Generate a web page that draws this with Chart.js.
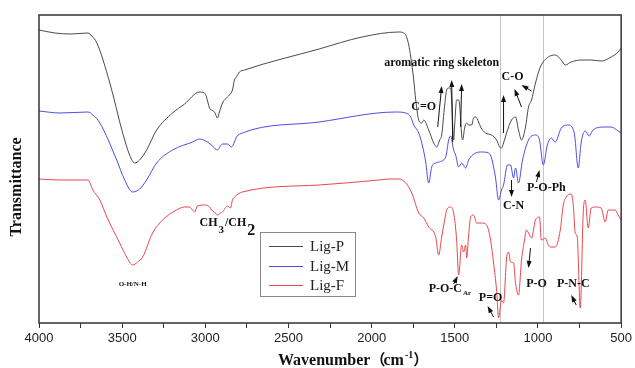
<!DOCTYPE html>
<html>
<head>
<meta charset="utf-8">
<script src="https://cdn.jsdelivr.net/npm/chart.js@4.4.1/dist/chart.umd.min.js"></script>
<style>
html, body { margin: 0; padding: 0; background: #fff; }
canvas { display: block; }
</style>
</head>
<body>
<canvas id="c" width="635" height="368"></canvas>
<script>
// [wavenumber cm-1, transmittance (arbitrary units)]
const ligP = [
    [4000, 293], [3904, 290], [3814, 289], [3706, 290], [3682, 287], [3652, 280], [3574, 240], [3497, 190],
    [3455, 168], [3425, 160], [3395, 163], [3353, 173], [3293, 193], [3197, 210], [3125, 219], [3035, 231],
    [3005, 230], [2993, 226], [2975, 215], [2963, 213], [2945, 211], [2927, 205], [2915, 211], [2897, 220],
    [2867, 226], [2855, 228], [2837, 233], [2825, 243], [2813, 246], [2795, 251], [2765, 253], [2316, 274],
    [2058, 286], [1837, 291], [1807, 290], [1795, 288], [1777, 278], [1765, 266], [1747, 243], [1735, 223],
    [1717, 203], [1699, 200], [1687, 203], [1657, 193], [1627, 180], [1609, 176], [1591, 183], [1579, 188],
    [1561, 218], [1549, 233], [1537, 235], [1525, 235], [1519, 223], [1507, 183], [1501, 198], [1489, 223],
    [1477, 223], [1471, 218], [1459, 188], [1453, 183], [1441, 195], [1429, 200], [1417, 198], [1399, 198],
    [1387, 205], [1375, 206], [1357, 201], [1345, 196], [1315, 190], [1279, 188], [1249, 183], [1231, 176],
    [1219, 175], [1207, 180], [1189, 190], [1159, 203], [1135, 206], [1117, 193], [1099, 183], [1075, 196],
    [1057, 216], [1039, 223], [1015, 240], [986, 256], [938, 266], [896, 268], [860, 263], [836, 258],
    [800, 261], [740, 263], [680, 263], [620, 262], [560, 266], [518, 271], [500, 275]
];
const ligM = [
    [4000, 212], [3874, 210], [3706, 211], [3676, 208], [3634, 200], [3533, 163], [3485, 143], [3437, 131],
    [3395, 134], [3353, 143], [3293, 160], [3197, 173], [3077, 181], [3035, 184], [3011, 183], [2987, 181],
    [2957, 177], [2927, 173], [2909, 177], [2897, 179], [2867, 179], [2843, 176], [2825, 181], [2813, 186],
    [2777, 190], [2316, 201], [1855, 211], [1795, 210], [1765, 206], [1747, 198], [1717, 190], [1693, 176],
    [1675, 161], [1657, 140], [1639, 156], [1615, 160], [1597, 161], [1555, 166], [1537, 183], [1525, 187],
    [1507, 173], [1495, 168], [1477, 156], [1459, 160], [1435, 155], [1417, 163], [1405, 166], [1375, 170],
    [1339, 171], [1297, 170], [1279, 165], [1267, 156], [1255, 145], [1237, 123], [1219, 133], [1207, 138],
    [1183, 158], [1165, 158], [1147, 145], [1135, 155], [1117, 140], [1093, 163], [1057, 183], [1015, 188],
    [991, 183], [968, 158], [944, 178], [920, 185], [896, 181], [860, 195], [818, 198], [782, 190],
    [758, 155], [740, 181], [716, 192], [692, 187], [674, 192], [650, 195], [596, 196], [560, 196],
    [518, 192], [500, 190]
];
const ligF = [
    [4000, 144], [3874, 143], [3706, 143], [3676, 133], [3634, 123], [3592, 106], [3515, 80], [3473, 66],
    [3437, 58], [3407, 61], [3377, 66], [3317, 90], [3257, 103], [3173, 113], [3125, 116], [3095, 116],
    [3077, 113], [3065, 111], [3047, 117], [2993, 118], [2975, 116], [2963, 113], [2945, 111], [2927, 108],
    [2909, 110], [2897, 111], [2867, 117], [2849, 115], [2837, 123], [2825, 126], [2777, 131], [2316, 138],
    [1956, 143], [1896, 144], [1837, 144], [1795, 140], [1759, 130], [1717, 110], [1687, 105], [1657, 96],
    [1615, 86], [1597, 68], [1579, 86], [1561, 103], [1549, 113], [1525, 116], [1507, 110], [1489, 83],
    [1477, 48], [1459, 78], [1447, 71], [1435, 78], [1429, 65], [1417, 88], [1405, 106], [1387, 108],
    [1369, 100], [1339, 100], [1309, 98], [1285, 83], [1267, 60], [1249, 33], [1237, 5], [1219, 23],
    [1207, 20], [1189, 65], [1177, 71], [1165, 61], [1147, 60], [1135, 40], [1117, 28], [1099, 63],
    [1081, 83], [1069, 93], [1057, 90], [1039, 85], [1015, 103], [991, 106], [980, 83], [956, 85],
    [938, 78], [926, 76], [896, 76], [866, 93], [848, 118], [830, 126], [800, 129], [788, 118],
    [776, 90], [764, 86], [746, 15], [728, 110], [716, 123], [698, 95], [680, 115], [656, 116],
    [620, 115], [596, 101], [578, 113], [536, 113], [518, 108], [500, 103]
];
const seriesNames = ['Lig-P', 'Lig-M', 'Lig-F'];
const seriesColors = ['#4a4a4a', '#4d4de6', '#e8484e'];
const markerLines = [1231, 968];

// labels: text, wavenumber, transmittance (centre)
const labels = [
    ['aromatic ring skeleton', 1579, 260],
    ['C=O', 1687, 216],
    ['C-O', 1153, 246],
    ['C-N', 1147, 117],
    ['P-O-Ph', 950, 135],
    ['P=O', 1285, 25],
    ['P-O', 1009, 39],
    ['P-N-C', 788, 39]
];
// arrows: from (wn, T) to (wn, T)
const arrows = [
    [1603, 196, 1579, 237],
    [1513, 181, 1519, 243],
    [1465, 196, 1459, 239],
    [1207, 190, 1207, 228],
    [1099, 216, 1141, 234],
    [1039, 232, 1099, 238],
    [1159, 143, 1159, 126],
    [1009, 141, 991, 153],
    [1507, 39, 1483, 47],
    [1267, 6, 1303, 17],
    [1045, 75, 1057, 55],
    [770, 18, 800, 28]
];

function drawArrow(ctx, x1, y1, x2, y2) {
    const a = Math.atan2(y2 - y1, x2 - x1);
    const c = Math.cos(a), s = Math.sin(a);
    ctx.beginPath();
    ctx.moveTo(x1, y1);
    ctx.lineTo(x2 - 5 * c, y2 - 5 * s);
    ctx.stroke();
    ctx.beginPath();
    ctx.moveTo(x2, y2);
    ctx.lineTo(x2 - 7 * c + 2.5 * s, y2 - 7 * s - 2.5 * c);
    ctx.lineTo(x2 - 7 * c - 2.5 * s, y2 - 7 * s + 2.5 * c);
    ctx.closePath();
    ctx.fill();
}

const decorations = {
    id: 'decorations',
    beforeDatasetsDraw(chart) {
        const ctx = chart.ctx, area = chart.chartArea, x = chart.scales.x;
        ctx.save();
        ctx.strokeStyle = '#c4c4c4';
        ctx.lineWidth = 1;
        markerLines.forEach(wn => {
            const px = Math.round(x.getPixelForValue(wn)) + 0.5;
            ctx.beginPath();
            ctx.moveTo(px, area.top);
            ctx.lineTo(px, area.bottom);
            ctx.stroke();
        });
        ctx.restore();
    },
    afterDraw(chart) {
        const ctx = chart.ctx, area = chart.chartArea;
        const x = chart.scales.x, y = chart.scales.y;
        const px = wn => x.getPixelForValue(wn);
        const py = t => y.getPixelForValue(t);
        ctx.save();

        // frame
        ctx.strokeStyle = '#333';
        ctx.lineWidth = 1.5;
        ctx.strokeRect(area.left, area.top, area.right - area.left, area.bottom - area.top);

        // peak labels
        ctx.fillStyle = '#111';
        ctx.textAlign = 'center';
        ctx.textBaseline = 'middle';
        ctx.font = 'bold 12px "Liberation Serif"';
        labels.forEach(l => ctx.fillText(l[0], px(l[1]), py(l[2])));

        // P-O-C with Ar subscript
        ctx.textAlign = 'left';
        ctx.textBaseline = 'alphabetic';
        let sx = px(1657), base = py(31);
        ctx.fillText('P-O-C', sx, base);
        sx += ctx.measureText('P-O-C').width + 1;
        ctx.font = 'bold 7px "Liberation Serif"';
        ctx.fillText('Ar', sx, base + 3);

        // CH3/CH2
        sx = px(3035);
        base = py(97);
        ctx.font = 'bold 12px "Liberation Serif"';
        ctx.fillText('CH', sx, base);
        sx += ctx.measureText('CH').width;
        ctx.font = 'bold 11px "Liberation Serif"';
        ctx.fillText('3', sx + 1, base + 7);
        sx += ctx.measureText('3').width + 2;
        ctx.font = 'bold 12px "Liberation Serif"';
        ctx.fillText('/CH', sx, base);
        sx += ctx.measureText('/CH').width;
        ctx.font = 'bold 16px "Liberation Serif"';
        ctx.fillText('2', sx + 1, base + 9);

        // O-H/N-H
        ctx.textAlign = 'center';
        ctx.textBaseline = 'middle';
        ctx.font = 'bold 7px "Liberation Serif"';
        ctx.fillText('O-H/N-H', px(3437), py(39));

        // arrows
        ctx.strokeStyle = '#111';
        ctx.fillStyle = '#111';
        ctx.lineWidth = 1;
        arrows.forEach(a => drawArrow(ctx, px(a[0]), py(a[1]), px(a[2]), py(a[3])));

        // legend box
        const lx = Math.round(area.left) + 221, ly = Math.round(area.top) + 217;
        ctx.fillStyle = '#fff';
        ctx.fillRect(lx, ly, 95, 64);
        ctx.strokeStyle = '#8a8a8a';
        ctx.lineWidth = 1;
        ctx.strokeRect(lx + 0.5, ly + 0.5, 95, 64);
        ctx.font = '15px "Liberation Serif"';
        ctx.textAlign = 'left';
        ctx.textBaseline = 'middle';
        seriesNames.forEach((name, i) => {
            const ry = ly + 14 + Math.round(i * 19.5) + 0.5;
            ctx.strokeStyle = seriesColors[i];
            ctx.beginPath();
            ctx.moveTo(lx + 9, ry);
            ctx.lineTo(lx + 43, ry);
            ctx.stroke();
            ctx.fillStyle = '#222';
            ctx.fillText(name, lx + 50, ry + 1);
        });

        // axis titles
        ctx.fillStyle = '#111';
        ctx.font = 'bold 16px "Liberation Serif"';
        ctx.textAlign = 'left';
        ctx.textBaseline = 'alphabetic';
        let tx = 278;
        const ty = 365;
        ctx.fillText('Wavenumber', tx, ty);
        tx += ctx.measureText('Wavenumber').width;
        ctx.font = 'bold 15px "Noto Sans CJK SC"';
        ctx.fillText('（', tx, ty);
        tx += ctx.measureText('（').width - 2;
        ctx.font = 'bold 16px "Liberation Serif"';
        ctx.fillText('cm', tx, ty);
        tx += ctx.measureText('cm').width + 1;
        ctx.font = 'bold 10px "Liberation Serif"';
        ctx.fillText('-1', tx, ty - 7);
        tx += ctx.measureText('-1').width;
        ctx.font = 'bold 15px "Noto Sans CJK SC"';
        ctx.fillText('）', tx, ty);

        ctx.translate(21, 187);
        ctx.rotate(-Math.PI / 2);
        ctx.textAlign = 'center';
        ctx.font = 'bold 16px "Liberation Serif"';
        ctx.fillText('Transmittance', 0, 0);
        ctx.restore();
    }
};

const series = [ligP, ligM, ligF];
const chart = new Chart(document.querySelector('#c'), {
    type: 'line',
    data: {
        datasets: series.map((s, i) => ({
            label: seriesNames[i],
            data: s.map(p => ({ x: p[0], y: p[1] })),
            borderColor: seriesColors[i],
            borderWidth: 1,
            pointRadius: 0,
            cubicInterpolationMode: 'monotone',
            fill: false
        }))
    },
    options: {
        responsive: false,
        animation: false,
        layout: { padding: { left: 39, top: 15, right: 12, bottom: 0 } },
        plugins: {
            legend: { display: false },
            tooltip: { enabled: false }
        },
        scales: {
            x: {
                type: 'linear',
                reverse: true,
                min: 500,
                max: 4000,
                afterFit: s => { s.height = 45; },
                grid: { drawOnChartArea: false, drawTicks: true, tickLength: 5, tickColor: '#333', tickWidth: 1 },
                border: { display: false },
                ticks: {
                    stepSize: 250,
                    autoSkip: false,
                    maxRotation: 0,
                    padding: 3,
                    color: '#222',
                    font: { family: 'Liberation Sans', size: 13 },
                    callback: v => v % 500 === 0 ? v : ''
                }
            },
            y: { display: false, min: 0, max: 308 }
        }
    },
    plugins: [decorations]
});
</script>
</body>
</html>
